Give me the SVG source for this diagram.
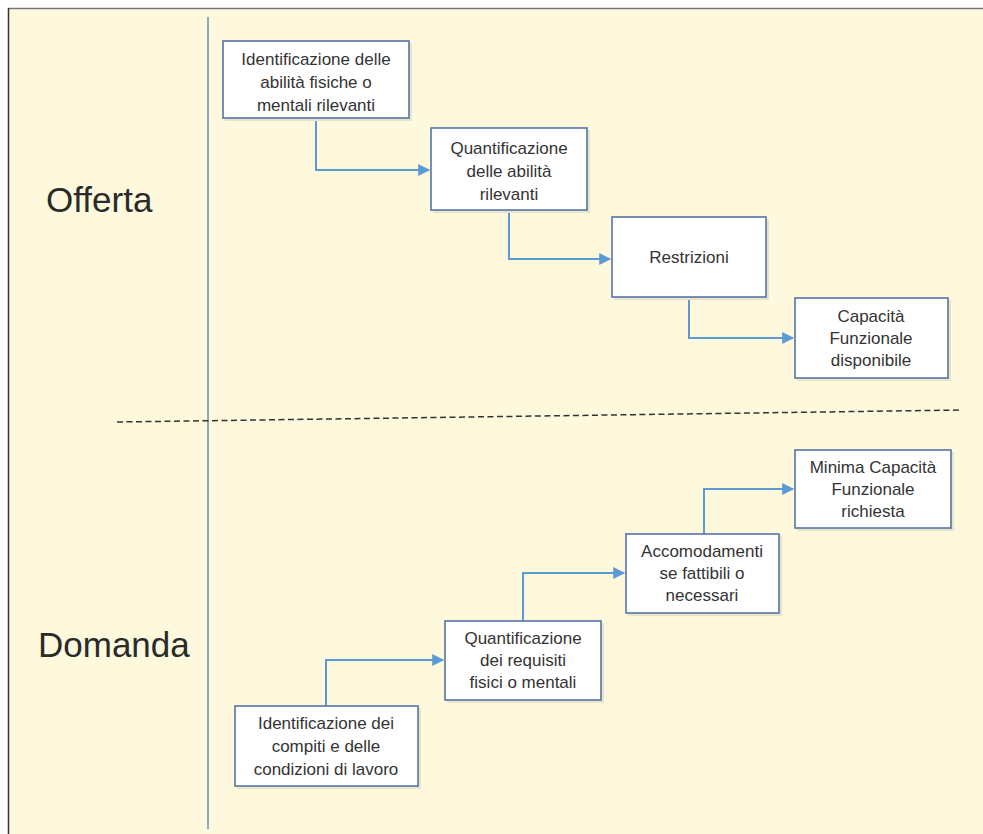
<svg xmlns="http://www.w3.org/2000/svg" width="983" height="834" viewBox="0 0 983 834">
<defs>
<style>
.box{fill:#ffffff;stroke:#5573a8;stroke-width:1.6}
.sh{fill:#e8e4cc}
.t{font-family:"Liberation Sans",Arial,sans-serif;font-size:17px;fill:#333333;text-anchor:middle}
.lbl{font-family:"Liberation Sans",Arial,sans-serif;font-size:35px;fill:#2a2a2a}
.conn{fill:none;stroke:#5b9bd5;stroke-width:2}
</style>
<marker id="ah" viewBox="0 0 10 10" refX="9" refY="5" markerWidth="7" markerHeight="6" markerUnits="strokeWidth" orient="auto">
<path d="M0,0 L10,5 L0,10 z" fill="#5b9bd5"/>
</marker>
</defs>
<rect x="0" y="0" width="983" height="834" fill="#ffffff"/>
<rect x="9" y="9" width="974" height="825" fill="#fef9dc"/>
<line x1="8" y1="8.5" x2="983" y2="8.5" stroke="#777777" stroke-width="1.5"/>
<line x1="8.5" y1="8" x2="8.5" y2="834" stroke="#333333" stroke-width="1.5"/>
<line x1="208" y1="17" x2="208" y2="829" stroke="#8fa8c8" stroke-width="2"/>
<line x1="117" y1="422" x2="962" y2="410" stroke="#333333" stroke-width="1.5" stroke-dasharray="6,3.5"/>
<text class="lbl" x="46" y="212">Offerta</text>
<text class="lbl" x="38" y="657">Domanda</text>
<g id="connectors">
<path class="conn" d="M316,118 V170 H429" marker-end="url(#ah)"/>
<path class="conn" d="M509,210 V259 H610" marker-end="url(#ah)"/>
<path class="conn" d="M689,297 V338 H793" marker-end="url(#ah)"/>
<path class="conn" d="M326,706 V660 H443" marker-end="url(#ah)"/>
<path class="conn" d="M523,621 V573 H624" marker-end="url(#ah)"/>
<path class="conn" d="M704,534 V489 H793" marker-end="url(#ah)"/>
</g>
<g id="n1">
<rect class="sh" x="225" y="43" width="187" height="78"/>
<rect class="box" x="223" y="41" width="186" height="77"/>
<text class="t" x="316" y="65">Identificazione delle</text>
<text class="t" x="316" y="88">abilità fisiche o</text>
<text class="t" x="316" y="111">mentali rilevanti</text>
</g>
<g id="n2">
<rect class="sh" x="433" y="130" width="157" height="83"/>
<rect class="box" x="431" y="128" width="156" height="82"/>
<text class="t" x="509" y="154">Quantificazione</text>
<text class="t" x="509" y="177">delle abilità</text>
<text class="t" x="509" y="200">rilevanti</text>
</g>
<g id="n3">
<rect class="sh" x="614" y="219" width="155" height="81"/>
<rect class="box" x="612" y="217" width="154" height="80"/>
<text class="t" x="689" y="263">Restrizioni</text>
</g>
<g id="n4">
<rect class="sh" x="797" y="300" width="154" height="81"/>
<rect class="box" x="795" y="298" width="153" height="80"/>
<text class="t" x="871" y="322">Capacità</text>
<text class="t" x="871" y="344">Funzionale</text>
<text class="t" x="871" y="366">disponibile</text>
</g>
<g id="n5">
<rect class="sh" x="797" y="452" width="157" height="79"/>
<rect class="box" x="795" y="450" width="156" height="78"/>
<text class="t" x="873" y="473">Minima Capacità</text>
<text class="t" x="873" y="495">Funzionale</text>
<text class="t" x="873" y="517">richiesta</text>
</g>
<g id="n6">
<rect class="sh" x="628" y="536" width="154" height="80"/>
<rect class="box" x="626" y="534" width="153" height="79"/>
<text class="t" x="702" y="557">Accomodamenti</text>
<text class="t" x="702" y="579">se fattibili o</text>
<text class="t" x="702" y="601">necessari</text>
</g>
<g id="n7">
<rect class="sh" x="447" y="623" width="157" height="80"/>
<rect class="box" x="445" y="621" width="156" height="79"/>
<text class="t" x="523" y="644">Quantificazione</text>
<text class="t" x="523" y="666">dei requisiti</text>
<text class="t" x="523" y="688">fisici o mentali</text>
</g>
<g id="n8">
<rect class="sh" x="237" y="708" width="184" height="81"/>
<rect class="box" x="235" y="706" width="183" height="80"/>
<text class="t" x="326" y="729">Identificazione dei</text>
<text class="t" x="326" y="752">compiti e delle</text>
<text class="t" x="326" y="775">condizioni di lavoro</text>
</g>
</svg>
